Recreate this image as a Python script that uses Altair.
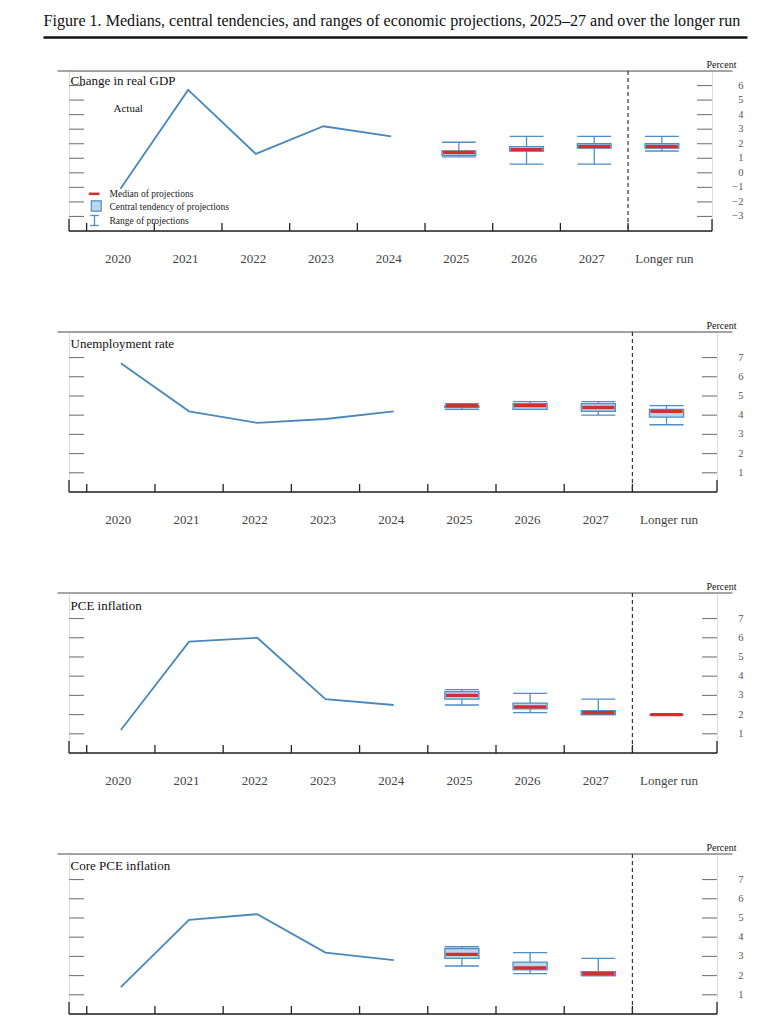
import altair as alt
import pandas as pd

# ---------------- data ----------------
categories = ["2020", "2021", "2022", "2023", "2024", "2025", "2026", "2027", "Longer run"]
actual_years = ["2020", "2021", "2022", "2023", "2024"]
proj_cats = ["2025", "2026", "2027", "Longer run"]

panel_titles = ["Change in real GDP", "Unemployment rate", "PCE inflation", "Core PCE inflation"]

gdp_actual = [-1.1, 5.7, 1.3, 3.2, 2.5]
unemp_actual = [6.7, 4.2, 3.6, 3.8, 4.2]
pce_actual = [1.2, 5.8, 6.0, 2.8, 2.5]
core_actual = [1.4, 4.9, 5.2, 3.2, 2.8]

gdp_median = [1.4, 1.6, 1.8, 1.8]
gdp_ct_lo = [1.2, 1.5, 1.7, 1.7]
gdp_ct_hi = [1.5, 1.8, 2.0, 2.0]
gdp_r_lo = [1.1, 0.6, 0.6, 1.5]
gdp_r_hi = [2.1, 2.5, 2.5, 2.5]

unemp_median = [4.5, 4.5, 4.4, 4.2]
unemp_ct_lo = [4.4, 4.3, 4.2, 3.9]
unemp_ct_hi = [4.5, 4.6, 4.6, 4.3]
unemp_r_lo = [4.3, 4.3, 4.0, 3.5]
unemp_r_hi = [4.6, 4.7, 4.7, 4.5]

pce_median = [3.0, 2.4, 2.1, 2.0]
pce_ct_lo = [2.8, 2.3, 2.0, 2.0]
pce_ct_hi = [3.2, 2.6, 2.2, 2.0]
pce_r_lo = [2.5, 2.1, 2.0, 2.0]
pce_r_hi = [3.3, 3.1, 2.8, 2.0]

core_median = [3.1, 2.4, 2.1]
core_ct_lo = [2.9, 2.3, 2.0]
core_ct_hi = [3.4, 2.7, 2.2]
core_r_lo = [2.5, 2.1, 2.0]
core_r_hi = [3.5, 3.2, 2.9]

gdp_ticks = [-3, -2, -1, 0, 1, 2, 3, 4, 5, 6]
level_ticks = [1, 2, 3, 4, 5, 6, 7]

legend_labels = ["Median of projections", "Central tendency of projections", "Range of projections"]
figure_title = "Figure 1. Medians, central tendencies, and ranges of economic projections, 2025\u201327 and over the longer run"

# ---------------- style ----------------
FONT = "Liberation Serif"
BLUE = "#4a88ba"
BOX_FILL = "#bcd6ee"
BOX_STROKE = "#4f8dc4"
RED = "#d22f2f"
H = 160
X_DOM = [-0.26, 9.24]
bounds = list(range(0, 9))

one = pd.DataFrame({"a": [0]})


def make_panel(title, actual, med, ctl, cth, rl, rh, dom, ticks, width, title_y, right_pad,
               first=False, show_xlabels=True):
    xs = alt.Scale(domain=X_DOM, nice=False, zero=False)
    ys = alt.Scale(domain=dom, nice=False, zero=False)

    act = pd.DataFrame({"cat": actual_years, "val": actual})
    act["pos"] = [categories.index(c) + 0.5 for c in act["cat"]]

    n = len(med)
    pr = pd.DataFrame({"cat": proj_cats[:n], "med": med, "ctl": ctl, "cth": cth, "rl": rl, "rh": rh})
    pr["pos"] = [categories.index(c) + 0.5 for c in pr["cat"]]

    cat_df = pd.DataFrame({"cat": categories})
    cat_df["pos"] = [i + 0.5 for i in range(len(categories))]

    tick_df = pd.DataFrame({"v": ticks})
    bnd_df = pd.DataFrame({"b": bounds})
    end_df = pd.DataFrame({"b": X_DOM})
    dash_df = pd.DataFrame({"b": [8]})

    line = alt.Chart(act).mark_line(color=BLUE, strokeWidth=1.8).encode(
        x=alt.X("pos:Q", scale=xs, axis=None),
        y=alt.Y("val:Q", scale=ys, axis=None),
    )

    # right-hand y labels, placed through the y scale
    ylab = alt.Chart(tick_df).mark_text(baseline="middle", align="right", fontSize=10.5, font=FONT,
                                        color="#555").encode(
        y=alt.Y("v:Q", scale=ys, axis=None), x=alt.value(width + right_pad),
        text=alt.Text("v:Q", format="d"))

    base_line = alt.Chart(one).mark_rule(color="#222", strokeWidth=1.3).encode(
        x=alt.value(0), x2=alt.value(width), y=alt.value(H))
    top_rule = alt.Chart(one).mark_rule(color="#888", strokeWidth=1.3).encode(
        x=alt.value(-11.5), x2=alt.value(663.5), y=alt.value(0))
    percent = alt.Chart(one).mark_text(align="right", baseline="alphabetic", fontSize=10, font=FONT,
                                       color="#111").encode(
        x=alt.value(667.5), y=alt.value(-3), text=alt.value("Percent"))
    ptitle = alt.Chart(one).mark_text(align="left", baseline="middle", fontSize=13, font=FONT, color="#111").encode(
        x=alt.value(1.5), y=alt.value(title_y), text=alt.value(title))

    lt = alt.Chart(tick_df).mark_rule(color="#777", strokeWidth=1.1).encode(
        y=alt.Y("v:Q", scale=ys, axis=None), x=alt.value(0), x2=alt.value(15))
    rt = alt.Chart(tick_df).mark_rule(color="#777", strokeWidth=1.1).encode(
        y=alt.Y("v:Q", scale=ys, axis=None), x=alt.value(width - 15), x2=alt.value(width))

    bt = alt.Chart(bnd_df).mark_rule(color="#222", strokeWidth=1.3).encode(
        x=alt.X("b:Q", scale=xs, axis=None), y=alt.value(H), y2=alt.value(H - 8))
    et = alt.Chart(end_df).mark_rule(color="#222", strokeWidth=1.3).encode(
        x=alt.X("b:Q", scale=xs, axis=None), y=alt.value(H), y2=alt.value(H - 12))
    dl = alt.Chart(dash_df).mark_rule(color="#333", strokeWidth=1.2, strokeDash=[4, 3]).encode(
        x=alt.X("b:Q", scale=xs, axis=None), y=alt.value(0), y2=alt.value(H))

    base = alt.Chart(pr).transform_calculate(xl="datum.pos - 0.25", xr="datum.pos + 0.25",
                                             xml="datum.pos - 0.235", xmr="datum.pos + 0.235")
    rng = base.mark_rule(color=BOX_STROKE, strokeWidth=1.3).encode(
        x=alt.X("pos:Q", scale=xs, axis=None), y=alt.Y("rl:Q", scale=ys, axis=None), y2="rh:Q")
    cap_lo = base.mark_rule(color=BOX_STROKE, strokeWidth=1.3).encode(
        x=alt.X("xl:Q", scale=xs, axis=None), x2="xr:Q", y=alt.Y("rl:Q", scale=ys, axis=None))
    cap_hi = base.mark_rule(color=BOX_STROKE, strokeWidth=1.3).encode(
        x=alt.X("xl:Q", scale=xs, axis=None), x2="xr:Q", y=alt.Y("rh:Q", scale=ys, axis=None))
    box = base.mark_rect(fill=BOX_FILL, stroke=BOX_STROKE, strokeWidth=1.3).encode(
        x=alt.X("xl:Q", scale=xs, axis=None), x2="xr:Q",
        y=alt.Y("ctl:Q", scale=ys, axis=None), y2="cth:Q")
    mline = base.mark_rule(color=RED, strokeWidth=3.3).encode(
        x=alt.X("xml:Q", scale=xs, axis=None), x2="xmr:Q", y=alt.Y("med:Q", scale=ys, axis=None))

    layers = [line, ylab, base_line, top_rule, percent, ptitle, lt, rt, bt, et, dl,
              rng, cap_lo, cap_hi, box, mline]

    if show_xlabels:
        # x labels (categories), placed through the x scale
        xlab_years = alt.Chart(cat_df).transform_filter(alt.datum.cat != "Longer run").mark_text(
            baseline="middle", align="center", fontSize=13, font=FONT, color="#444", dx=-2.5).encode(
            x=alt.X("pos:Q", scale=xs, axis=None), y=alt.value(H + 28), text="cat:N")
        xlab_lr = alt.Chart(cat_df).transform_filter(alt.datum.cat == "Longer run").mark_text(
            baseline="middle", align="center", fontSize=13, font=FONT, color="#444", dx=2.5).encode(
            x=alt.X("pos:Q", scale=xs, axis=None), y=alt.value(H + 28), text="cat:N")
        layers += [xlab_years, xlab_lr]

    if first:
        ft = alt.Chart(one).mark_text(align="left", baseline="middle", fontSize=16.1, font=FONT, color="#111").encode(
            x=alt.value(-25.5), y=alt.value(-50.5), text=alt.value(figure_title))
        frule = alt.Chart(one).mark_rule(color="#111", strokeWidth=2.6).encode(
            x=alt.value(-25.5), x2=alt.value(678.5), y=alt.value(-33.5))
        actual_lbl = alt.Chart(one).mark_text(align="left", baseline="middle", fontSize=11, font=FONT, color="#111").encode(
            x=alt.value(44.5), y=alt.value(37.8), text=alt.value("Actual"))
        lg_dash = alt.Chart(one).mark_rule(color=RED, strokeWidth=2.5).encode(
            x=alt.value(19.8), x2=alt.value(30.5), y=alt.value(122.8))
        lg_box = alt.Chart(one).mark_rect(fill=BOX_FILL, stroke=BOX_STROKE, strokeWidth=1.2).encode(
            x=alt.value(22.3), x2=alt.value(32.2), y=alt.value(129.8), y2=alt.value(140.2))
        lg_stem = alt.Chart(one).mark_rule(color=BOX_STROKE, strokeWidth=1.3).encode(
            x=alt.value(25.5), y=alt.value(144.5), y2=alt.value(154.5))
        lg_cap1 = alt.Chart(one).mark_rule(color=BOX_STROKE, strokeWidth=1.3).encode(
            x=alt.value(21.2), x2=alt.value(29.8), y=alt.value(144.5))
        lg_cap2 = alt.Chart(one).mark_rule(color=BOX_STROKE, strokeWidth=1.3).encode(
            x=alt.value(21.2), x2=alt.value(29.8), y=alt.value(154.5))
        texts = []
        for lbl, yy in zip(legend_labels, [122.8, 135.6, 150.2]):
            texts.append(alt.Chart(one).mark_text(align="left", baseline="middle", fontSize=9.5, font=FONT,
                                                  color="#222").encode(
                x=alt.value(40.5), y=alt.value(yy), text=alt.value(lbl)))
        layers += [ft, frule, actual_lbl, lg_dash, lg_box, lg_stem, lg_cap1, lg_cap2] + texts

    return alt.layer(*layers).properties(width=width, height=H)


p1 = make_panel(panel_titles[0], gdp_actual, gdp_median, gdp_ct_lo, gdp_ct_hi, gdp_r_lo, gdp_r_hi,
                [-4, 7], gdp_ticks, 643, 10, 31.5, first=True)
p2 = make_panel(panel_titles[1], unemp_actual, unemp_median, unemp_ct_lo, unemp_ct_hi, unemp_r_lo, unemp_r_hi,
                [0, 8.33], level_ticks, 648, 12.3, 26.5)
p3 = make_panel(panel_titles[2], pce_actual, pce_median, pce_ct_lo, pce_ct_hi, pce_r_lo, pce_r_hi,
                [0, 8.33], level_ticks, 648, 12.7, 26.5)
p4 = make_panel(panel_titles[3], core_actual, core_median, core_ct_lo, core_ct_hi, core_r_lo, core_r_hi,
                [0, 8.33], level_ticks, 648, 12, 26.5, show_xlabels=False)

chart = alt.vconcat(p1, p2, p3, p4, spacing=101, bounds="flush").properties(
    padding={"left": 33, "top": 4, "right": 10, "bottom": 10}
).configure_view(stroke=None).configure(font=FONT, background="white")

chart.save("out.html", embed_options={"renderer": "svg", "actions": False})
